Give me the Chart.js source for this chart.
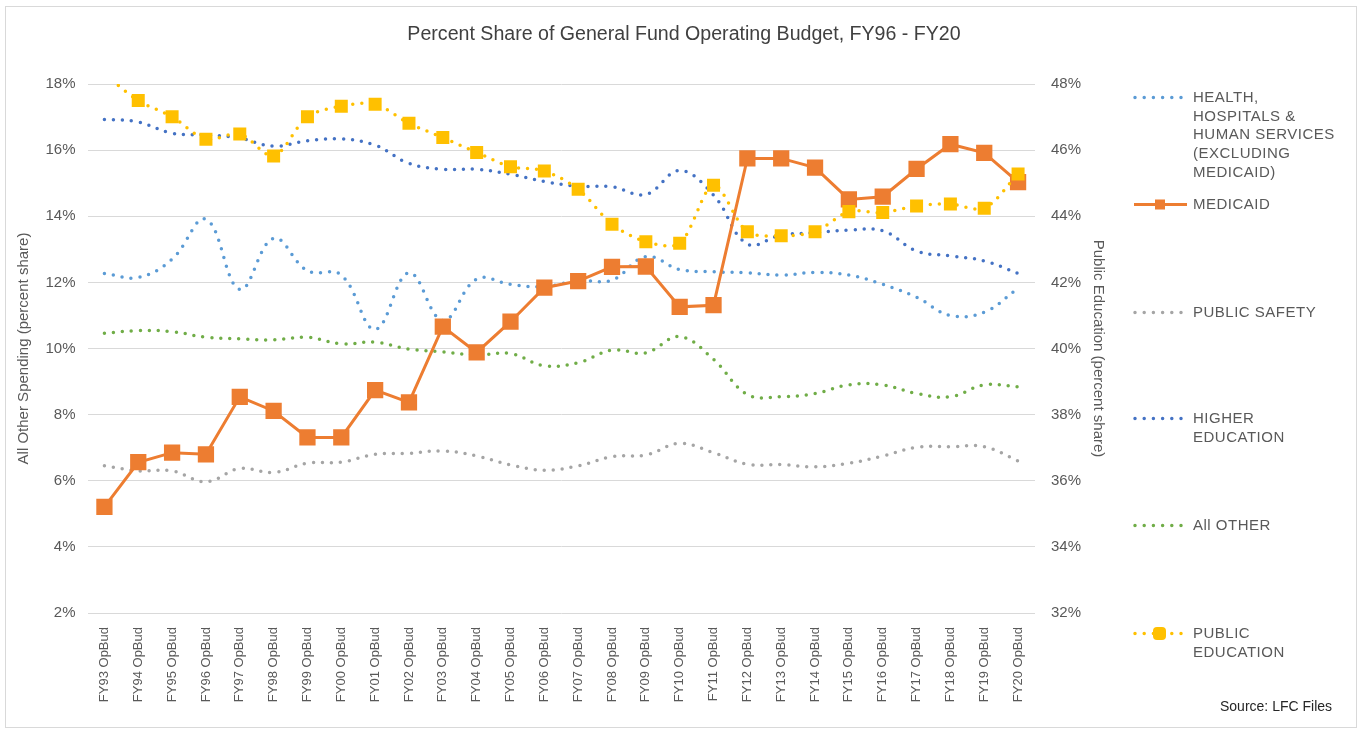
<!DOCTYPE html>
<html>
<head>
<meta charset="utf-8">
<script src="https://cdn.jsdelivr.net/npm/chart.js@4.4.1/dist/chart.umd.min.js"></script>
<style>
  html,body{margin:0;padding:0;background:#fff;}
  #wrap{position:relative;width:1368px;height:731px;overflow:hidden;font-family:"Liberation Sans",Arial,sans-serif;}
  #frame{position:absolute;left:5px;top:6px;width:1352px;height:722px;border:1px solid #d9d9d9;box-sizing:border-box;}
  canvas{position:absolute;left:0;top:0;}
  #title{position:absolute;left:0;width:1368px;top:24px;text-align:center;font-size:19.6px;line-height:19px;color:#404040;white-space:nowrap;}
  .lg{position:absolute;left:1133px;color:#595959;font-size:15px;line-height:18.7px;letter-spacing:0.5px;}
  .lg svg{position:absolute;left:0;top:0;}
  .lg .t{position:absolute;left:60px;top:0;white-space:nowrap;}
  #src{position:absolute;left:1220px;top:698px;font-size:14px;color:#262626;}
</style>
</head>
<body>
<div id="wrap">
  <div id="frame"></div>
  <canvas id="c" width="1368" height="731"></canvas>
  <div id="title">Percent Share of General Fund Operating Budget, FY96 - FY20</div>
  <div id="legend"></div>
  <div id="src">Source: LFC Files</div>
</div>
<script>
const categories = ["FY93 OpBud","FY94 OpBud","FY95 OpBud","FY96 OpBud","FY97 OpBud","FY98 OpBud","FY99 OpBud","FY00 OpBud","FY01 OpBud","FY02 OpBud","FY03 OpBud","FY04 OpBud","FY05 OpBud","FY06 OpBud","FY07 OpBud","FY08 OpBud","FY09 OpBud","FY10 OpBud","FY11 OpBud","FY12 OpBud","FY13 OpBud","FY14 OpBud","FY15 OpBud","FY16 OpBud","FY17 OpBud","FY18 OpBud","FY19 OpBud","FY20 OpBud"];

const health       = [12.27,12.15,12.70,13.91,11.79,13.33,12.35,12.22,10.58,12.29,10.85,12.10,11.94,11.87,12.05,12.07,12.78,12.39,12.32,12.29,12.22,12.30,12.22,11.94,11.55,11.00,11.10,11.82];
const medicaid     = [5.21,6.56,6.85,6.80,8.54,8.11,7.31,7.31,8.74,8.37,10.66,9.88,10.81,11.84,12.04,12.47,12.48,11.26,11.31,15.75,15.75,15.47,14.51,14.59,15.43,16.18,15.92,15.03];
const publicSafety = [6.45,6.30,6.30,5.97,6.37,6.25,6.53,6.56,6.80,6.83,6.90,6.75,6.48,6.32,6.45,6.73,6.78,7.13,6.85,6.50,6.49,6.42,6.53,6.75,7.01,7.03,7.03,6.60];
const higherEd     = [16.93,16.85,16.51,16.46,16.36,16.12,16.28,16.34,16.15,15.60,15.42,15.42,15.27,15.05,14.91,14.89,14.66,15.38,14.64,13.16,13.43,13.50,13.58,13.56,12.95,12.80,12.65,12.27];
const allOther     = [10.46,10.54,10.51,10.34,10.29,10.26,10.34,10.14,10.19,9.98,9.90,9.80,9.85,9.48,9.57,9.95,9.87,10.36,9.67,8.61,8.54,8.64,8.90,8.90,8.64,8.54,8.90,8.84];
const publicEd     = [48.30,47.50,47.01,46.33,46.49,45.82,47.01,47.33,47.39,46.81,46.38,45.93,45.50,45.37,44.82,43.76,43.23,43.18,44.94,43.53,43.41,43.53,44.14,44.11,44.31,44.37,44.24,45.28];

const leftTicks  = {min:2, max:18, step:2};
const rightTicks = {min:32, max:48, step:2};

const C = {health:'#5B9BD5', medicaid:'#ED7D31', safety:'#A5A5A5', higher:'#4472C4', other:'#70AD47', pubed:'#FFC000'};
const txt = '#595959';
const font = '"Liberation Sans", Arial, sans-serif';

function dotted(label, data, color, axis){
  return {label, data, yAxisID: axis, borderColor: color, backgroundColor: color,
    borderWidth: 3.5, borderDash:[0,9], borderCapStyle:'round', tension:0.4,
    pointRadius:0, pointHoverRadius:0, fill:false};
}

const datasets = [
  Object.assign(dotted('PUBLIC EDUCATION', publicEd, C.pubed, 'y1'), {pointRadius:9.2, pointStyle:'rect', pointBorderWidth:0, pointBackgroundColor:C.pubed, tension:0.3}),
  {label:'MEDICAID', data:medicaid, yAxisID:'y', borderColor:C.medicaid, backgroundColor:C.medicaid, borderWidth:3, tension:0,
    pointStyle:'rect', pointRadius:11.5, pointBorderWidth:0, pointBackgroundColor:C.medicaid, fill:false},
  dotted('HIGHER EDUCATION', higherEd, C.higher, 'y'),
  dotted('HEALTH, HOSPITALS & HUMAN SERVICES (EXCLUDING MEDICAID)', health, C.health, 'y'),
  dotted('All OTHER', allOther, C.other, 'y'),
  dotted('PUBLIC SAFETY', publicSafety, C.safety, 'y'),
];

new Chart(document.getElementById('c'), {
  type:'line',
  data:{labels:categories, datasets},
  options:{
    responsive:false, animation:false,
    layout:{padding:{left:14, right:253, top:84, bottom:0}},
    plugins:{ legend:{display:false}, tooltip:{enabled:false}, title:{display:false} },
    scales:{
      x:{offset:true, grid:{display:false}, border:{display:false},
        ticks:{color:txt, font:{family:font, size:13}, minRotation:90, maxRotation:90, autoSkip:false, padding:6},
        afterFit:(s)=>{s.height=118;}},
      y:{position:'left', min:leftTicks.min, max:leftTicks.max,
        ticks:{stepSize:leftTicks.step, color:txt, font:{family:font, size:15}, padding:12, callback:v=>v+'%'},
        grid:{color:'#d9d9d9', lineWidth:1, drawTicks:false}, border:{display:false},
        title:{display:true, text:'All Other Spending (percent share)', color:txt, font:{family:font, size:15}, padding:{top:1,bottom:0}},
        afterFit:(s)=>{s.width=73.5;}},
      y1:{position:'right', min:rightTicks.min, max:rightTicks.max,
        ticks:{stepSize:rightTicks.step, color:txt, font:{family:font, size:15}, padding:16, callback:v=>v+'%'},
        grid:{display:false, drawTicks:false}, border:{display:false},
        title:{display:true, text:'Public Education (percent share)', color:txt, font:{family:font, size:15}, padding:{top:8,bottom:0}},
        afterFit:(s)=>{s.width=80;}}
    }
  }
});

// HTML legend
const legendItems = [
  {lines:['HEALTH,','HOSPITALS &','HUMAN SERVICES','(EXCLUDING','MEDICAID)'], top:88, color:C.health, kind:'dot'},
  {lines:['MEDICAID'], top:195, color:C.medicaid, kind:'solid'},
  {lines:['PUBLIC SAFETY'], top:303, color:C.safety, kind:'dot'},
  {lines:['HIGHER','EDUCATION'], top:409, color:C.higher, kind:'dot'},
  {lines:['All OTHER'], top:516, color:C.other, kind:'dot'},
  {lines:['PUBLIC','EDUCATION'], top:624, color:C.pubed, kind:'dotrect'},
];
const lg = document.getElementById('legend');
legendItems.forEach(it=>{
  const d = document.createElement('div');
  d.className='lg'; d.style.top = it.top+'px';
  let svg = '<svg width="56" height="20">';
  if(it.kind==='solid'){
    svg += `<line x1="1" y1="9.5" x2="54" y2="9.5" stroke="${it.color}" stroke-width="3"/>`;
    svg += `<rect x="22" y="4.5" width="10" height="10" fill="${it.color}"/>`;
  } else {
    svg += `<line x1="2" y1="9.5" x2="54" y2="9.5" stroke="${it.color}" stroke-width="3.5" stroke-dasharray="0 9.2" stroke-linecap="round"/>`;
    if(it.kind==='dotrect') svg += `<rect x="20" y="3" width="13" height="13" rx="4" fill="${it.color}"/>`;
  }
  svg += '</svg>';
  d.innerHTML = svg + '<div class="t">' + it.lines.join('<br>') + '</div>';
  lg.appendChild(d);
});
</script>
</body>
</html>
